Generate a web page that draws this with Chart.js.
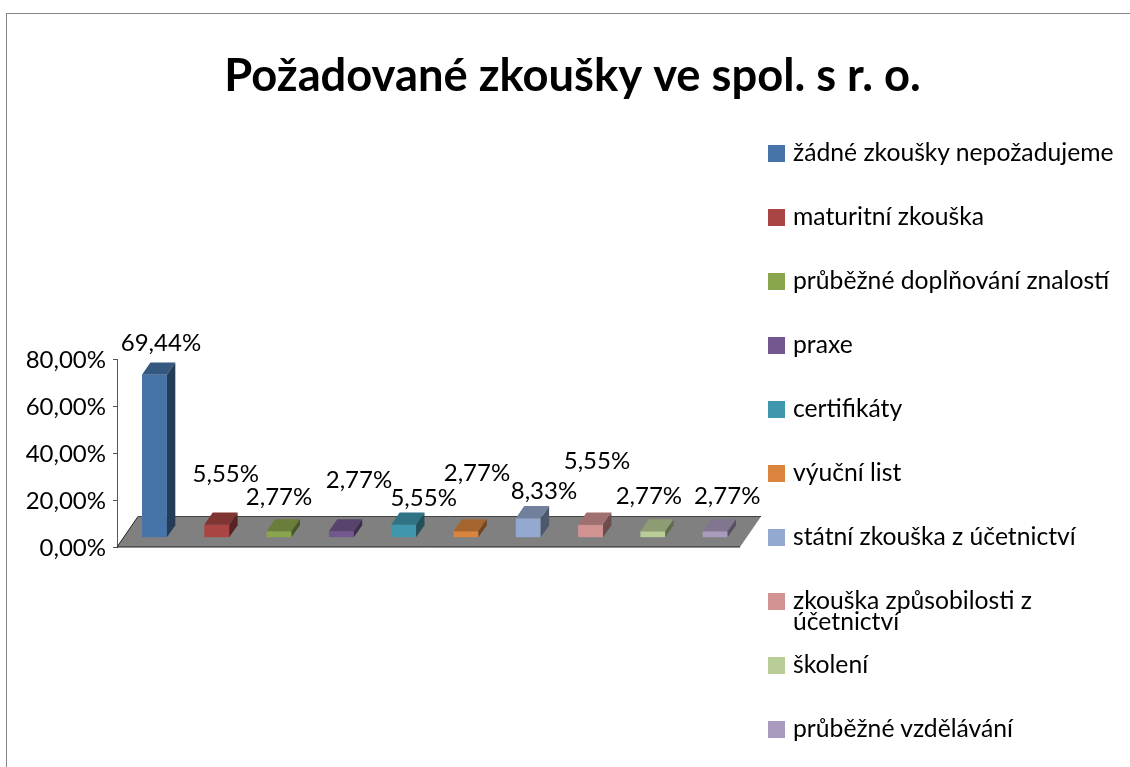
<!DOCTYPE html>
<html lang="cs">
<head>
<meta charset="utf-8">
<title>Požadované zkoušky ve spol. s r. o.</title>
<script src="https://cdn.jsdelivr.net/npm/chart.js@4"></script>
<style>
html,body{margin:0;padding:0;background:#fff;overflow:hidden}
#wrap{position:relative;width:1130px;height:767px;overflow:hidden}
#frame{position:absolute;left:6px;top:13px;width:1200px;height:900px;border:1px solid #868686;box-sizing:border-box}
canvas{position:absolute;left:0;top:0}
#legend{position:absolute;left:768px;top:0;margin:0;padding:0;list-style:none;font:24.7px Lato,sans-serif;color:#000}
#legend li{position:absolute;left:0;width:360px;display:block;line-height:21px}
#legend i{position:absolute;left:0;top:2px;width:17px;height:17px}
#legend span{display:block;margin-left:25px;margin-top:-2px;white-space:pre}
</style>
</head>
<body>
<div id="wrap">
<div id="frame"></div>
<canvas id="c" width="1130" height="767"></canvas>
<ul id="legend"></ul>
</div>
<script>
const titleText = 'Požadované zkoušky ve spol. s r. o.';
const categories = ['žádné zkoušky nepožadujeme','maturitní zkouška','průběžné doplňování znalostí','praxe','certifikáty','výuční list','státní zkouška z účetnictví','zkouška způsobilosti z\núčetnictví','školení','průběžné vzdělávání'];
const values = [69.44,5.55,2.77,2.77,5.55,2.77,8.33,5.55,2.77,2.77];
const yTicks = [0,20,40,60,80];
const colors = ['#4674A8','#A94643','#8AA64C','#72588F','#3F97AE','#DB843D','#93A9CF','#D19392','#B9CD96','#A99BBD'];
const labelNudgeX = [6.5,9,0,17.6,20,11,15.7,6.4,-4,12];
const labelNudgeY = [-31.5,-51,-34.5,-51.5,-27,-58.5,-27.5,-64,-35.5,-35.5];

const FONT = 'Lato, sans-serif';
const pct2 = v => v.toFixed(2).replace('.', ',') + '%';
const shade = (hex, f) => {
  const n = parseInt(hex.slice(1), 16);
  return 'rgb(' + [n >> 16, (n >> 8) & 255, n & 255].map(c => Math.round(c * f)).join(',') + ')';
};
const FLOOR_DX = 21, FLOOR_DY = -30.5;
const BAR_SHIFT_X = FLOOR_DX * 0.3, BAR_SHIFT_Y = FLOOR_DY * 0.3;
const BAR_DX = FLOOR_DX * 0.4, BAR_DY = FLOOR_DY * 0.4;

const threeD = {
  id: 'threeD',
  beforeDatasetsDraw(chart) {
    const { ctx, scales: { x, y } } = chart;
    const b = y.getPixelForValue(0);
    ctx.save();
    ctx.beginPath();
    ctx.moveTo(x.left, b);
    ctx.lineTo(x.right, b);
    ctx.lineTo(x.right + FLOOR_DX, b + FLOOR_DY);
    ctx.lineTo(x.left + FLOOR_DX, b + FLOOR_DY);
    ctx.closePath();
    ctx.fillStyle = '#808080';
    ctx.fill();
    ctx.lineWidth = 1;
    ctx.strokeStyle = '#222';
    ctx.beginPath();
    ctx.moveTo(x.left + FLOOR_DX, b + FLOOR_DY);
    ctx.lineTo(x.left, b);
    ctx.lineTo(x.right, b);
    ctx.stroke();
    ctx.strokeStyle = '#444';
    ctx.beginPath();
    ctx.moveTo(x.left + FLOOR_DX, b + FLOOR_DY);
    ctx.lineTo(x.right + FLOOR_DX, b + FLOOR_DY);
    ctx.stroke();
    ctx.restore();
    ctx.save();
    ctx.translate(BAR_SHIFT_X, BAR_SHIFT_Y);
  },
  afterDatasetsDraw(chart) {
    const { ctx } = chart;
    const meta = chart.getDatasetMeta(0);
    meta.data.forEach((bar, i) => {
      const l = bar.x - bar.width / 2, r = bar.x + bar.width / 2, t = bar.y, bt = bar.base;
      ctx.beginPath();
      ctx.moveTo(l, t); ctx.lineTo(r, t); ctx.lineTo(r + BAR_DX, t + BAR_DY); ctx.lineTo(l + BAR_DX, t + BAR_DY);
      ctx.closePath();
      ctx.fillStyle = shade(colors[i], 0.76);
      ctx.fill();
      ctx.beginPath();
      ctx.moveTo(r, t); ctx.lineTo(r + BAR_DX, t + BAR_DY); ctx.lineTo(r + BAR_DX, bt + BAR_DY); ctx.lineTo(r, bt);
      ctx.closePath();
      ctx.fillStyle = shade(colors[i], 0.52);
      ctx.fill();
    });
    ctx.fillStyle = '#000';
    ctx.font = '24px ' + FONT;
    ctx.textAlign = 'center';
    ctx.textBaseline = 'middle';
    meta.data.forEach((bar, i) => {
      ctx.fillText(pct2(values[i]), bar.x + labelNudgeX[i], bar.y + labelNudgeY[i]);
    });
    ctx.restore();
  }
};

new Chart(document.getElementById('c'), {
  type: 'bar',
  plugins: [threeD],
  data: {
    labels: categories,
    datasets: [{ data: values, backgroundColor: colors, borderWidth: 0, categoryPercentage: 0.4, barPercentage: 1 }]
  },
  options: {
    responsive: false,
    animation: false,
    layout: { padding: { left: 15, right: 0, top: 0, bottom: 220 } },
    plugins: {
      legend: { display: false },
      tooltip: { enabled: false },
      title: {
        display: true,
        text: titleText,
        color: '#000',
        font: { family: FONT, size: 45.3, weight: 'bold', lineHeight: 1.2 },
        padding: { top: 49.4, bottom: 255.4 }
      }
    },
    scales: {
      x: { display: false },
      y: {
        min: 0, max: 80,
        afterFit(s) { s.width = 102; },
        afterBuildTicks(s) { s.ticks = yTicks.map(v => ({ value: v })); },
        border: { display: true, color: '#555' },
        grid: { drawOnChartArea: false, drawTicks: true, tickLength: 4, color: '#555' },
        ticks: { color: '#000', padding: 7, labelOffset: 1.5, font: { family: FONT, size: 24 }, callback: v => pct2(v) }
      },
      legendSpace: {
        type: 'linear',
        position: 'right',
        afterFit(s) { s.width = 390; },
        border: { display: false },
        grid: { display: false },
        ticks: { display: false }
      }
    }
  }
});

const legendEl = document.getElementById('legend');
categories.forEach((name, i) => {
  const li = document.createElement('li');
  li.style.top = (142.5 + 64 * i) + 'px';
  const sw = document.createElement('i');
  sw.style.background = colors[i];
  const sp = document.createElement('span');
  sp.textContent = name;
  li.append(sw, sp);
  legendEl.append(li);
});
</script>
</body>
</html>
